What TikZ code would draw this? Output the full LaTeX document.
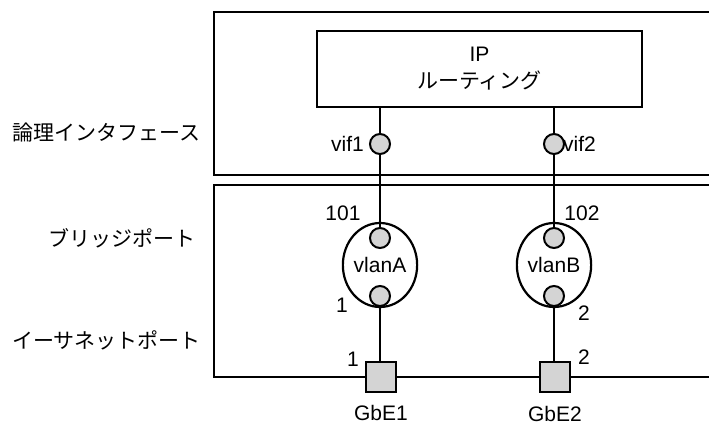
\documentclass[tikz,border=0pt]{standalone}
\usepackage{fontspec}
\setmainfont{Liberation Sans}
\newfontfamily\cjk{Noto Sans CJK JP}
\usetikzlibrary{shapes.geometric}
\definecolor{portgray}{HTML}{D4D4D4}
\tikzset{
  frame/.style={line width=2.4pt},
  wire/.style={line width=2.4pt},
  port/.style={circle, draw, line width=2pt, fill=portgray, minimum size=20pt, inner sep=0pt},
  vlan/.style={ellipse, draw, line width=2.2pt, minimum width=58pt, minimum height=84pt, inner sep=0pt},
  eth/.style={rectangle, draw, line width=2.4pt, fill=portgray, minimum size=30pt, inner sep=0pt},
  lbl/.style={inner sep=0pt},
  ipbox/.style={rectangle, draw, line width=2.4pt, minimum width=325pt, minimum height=76pt, align=center, inner sep=0pt}
}
\begin{document}
\begin{tikzpicture}[x=1pt,y=-1pt, font=\fontsize{21}{27}\selectfont]
\useasboundingbox (0,0) rectangle (709,425);
\clip (0,0) rectangle (709,425);
\fill[white] (0,0) rectangle (709,425);
% frames
\draw[frame] (715,12) -| (214,175) -- (715,175);
\draw[frame] (715,185) -| (214,377) -- (715,377);
% IP box
\node[ipbox] (ip) at (479.5,69) {IP\\{\cjk ルーティング}};
% logical interfaces
\node[port] (vif1) at (380,144) {};
\node[port] (vif2) at (554,144) {};
% vlans
\node[vlan] (vA) at (380,265) {vlanA};
\node[vlan] (vB) at (554,265) {vlanB};
\node[port] (a1) at (380,238) {};
\node[port] (a2) at (380,296) {};
\node[port] (b1) at (554,238) {};
\node[port] (b2) at (554,296) {};
% ethernet ports
\node[eth] (g1) at (381,377) {};
\node[eth] (g2) at (555,377) {};
% wires
\draw[wire] (ip.south -| vif1) -- (vif1.north);
\draw[wire] (vif1.south) -- (a1.north);
\draw[wire] (ip.south -| vif2) -- (vif2.north);
\draw[wire] (vif2.south) -- (b1.north);
\draw[wire] (a2.south) -- (g1.north -| a2);
\draw[wire] (b2.south) -- (g2.north -| b2);
% labels
\node[lbl, anchor=east] (lv1) at (364,144) {vif1};
\node[lbl, anchor=west] (lv2) at (563,144) {vif2};
\node[lbl] (l101) at (343,213) {101};
\node[lbl] (l102) at (582,213) {102};
\node[lbl] (la2) at (342,305) {1};
\node[lbl] (lb2) at (584,313) {2};
\node[lbl] (lg1) at (353,359) {1};
\node[lbl] (lg2) at (584,357) {2};
\node[lbl] (ng1) at (381,413) {GbE1};
\node[lbl] (ng2) at (555,414) {GbE2};
% layer labels
\node[lbl, anchor=east] (t1) at (201,133) {\cjk 論理インタフェース};
\node[lbl, anchor=east] (t2) at (196,238) {\cjk ブリッジポート};
\node[lbl, anchor=east] (t3) at (201,340) {\cjk イーサネットポート};
\end{tikzpicture}
\end{document}
